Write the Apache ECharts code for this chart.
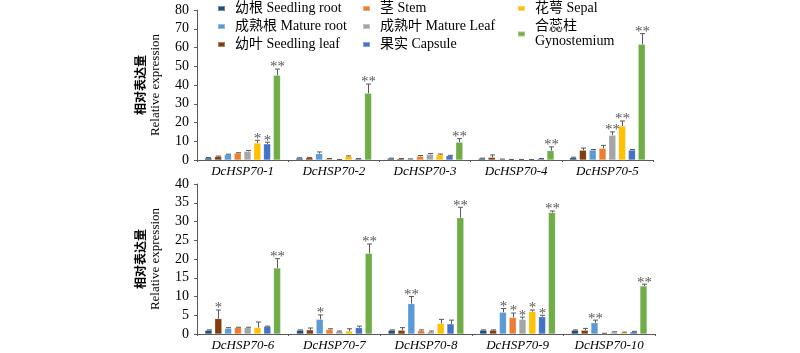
<!DOCTYPE html>
<html>
<head>
<meta charset="utf-8">
<script src="https://cdn.jsdelivr.net/npm/echarts@6/dist/echarts.min.js"></script>
<style>
  html, body { margin: 0; padding: 0; background: #fff; }
  #main { width: 800px; height: 353px; }
</style>
</head>
<body>
<div id="main"></div>
<script>
// genes, top panel 1-5, bottom panel 6-10
var genesTop = ['DcHSP70-1', 'DcHSP70-2', 'DcHSP70-3', 'DcHSP70-4', 'DcHSP70-5'];
var genesBottom = ['DcHSP70-6', 'DcHSP70-7', 'DcHSP70-8', 'DcHSP70-9', 'DcHSP70-10'];

// tissues in bar order
var tissues = ['幼根 Seedling root', '幼叶 Seedling leaf', '成熟根 Mature root', '茎 Stem',
  '成熟叶 Mature Leaf', '花萼 Sepal', '果实 Capsule', '合蕊柱\nGynostemium'];
var colors = ['#1F4E79', '#843C0C', '#5B9BD5', '#ED7D31', '#A5A5A5', '#FFC000', '#4472C4', '#70AD47'];

// relative expression, genes 1..10
var seedlingRoot = [1.1, 1.0, 0.9, 0.9, 1.2, 1.0, 1.0, 1.0, 1.0, 1.0];
var seedlingLeaf = [1.8, 1.2, 0.7, 1.4, 5.2, 4.1, 1.1, 1.0, 1.0, 1.0];
var matureRoot   = [2.9, 3.4, 0.5, 0.4, 5.3, 1.5, 3.9, 8.1, 5.8, 3.0];
var stem         = [3.7, 0.7, 2.0, 0.2, 6.2, 1.7, 1.2, 0.9, 4.4, 0.1];
var matureLeaf   = [4.6, 0.2, 3.0, 0.2, 13.2, 1.7, 0.7, 0.6, 3.9, 0.5];
var sepal        = [9.1, 1.9, 2.9, 0.2, 18.1, 1.7, 0.8, 2.8, 6.0, 0.4];
var capsule      = [8.6, 0.7, 2.3, 0.7, 5.3, 2.0, 1.7, 2.7, 4.6, 0.6];
var gynostemium  = [45.2, 35.6, 9.5, 5.0, 61.7, 17.6, 21.5, 31.0, 32.4, 12.8];

// error bars (SD, upper only)
var errSeedlingRoot = [0.2, 0.2, 0.1, 0.1, 0.3, 0.1, 0.1, 0.1, 0.1, 0.1];
var errSeedlingLeaf = [0.3, 0.2, 0.1, 1.3, 1.2, 2.3, 0.5, 0.7, 0.1, 0.5];
var errMatureRoot   = [0.2, 0.9, 0.1, 0.1, 0.3, 0.2, 1.2, 1.9, 1.0, 0.7];
var errStem         = [0.2, 0.1, 0.4, 0.1, 1.6, 0.1, 0.2, 0.2, 1.2, 0.1];
var errMatureLeaf   = [0.5, 0.1, 0.5, 0.1, 1.8, 0.1, 0.1, 0.2, 0.6, 0.1];
var errSepal        = [1.4, 0.3, 0.3, 0.1, 2.7, 1.5, 0.6, 1.1, 0.4, 0.1];
var errCapsule      = [0.9, 0.1, 0.2, 0.1, 0.3, 0.1, 0.4, 1.0, 0.4, 0.1];
var errGynostemium  = [3.3, 4.9, 1.9, 2.0, 5.7, 2.5, 2.5, 2.8, 0.4, 0.5];

// significance stars (0 none, 1 *, 2 **)
var sigSeedlingRoot = [0, 0, 0, 0, 0, 0, 0, 0, 0, 0];
var sigSeedlingLeaf = [0, 0, 0, 0, 0, 1, 0, 0, 0, 0];
var sigMatureRoot   = [0, 0, 0, 0, 0, 0, 1, 2, 1, 2];
var sigStem         = [0, 0, 0, 0, 0, 0, 0, 0, 1, 0];
var sigMatureLeaf   = [0, 0, 0, 0, 2, 0, 0, 0, 1, 0];
var sigSepal        = [1, 0, 0, 0, 2, 0, 0, 0, 1, 0];
var sigCapsule      = [1, 0, 0, 0, 0, 0, 0, 0, 1, 0];
var sigGynostemium  = [2, 2, 2, 2, 2, 2, 2, 2, 2, 2];

var yTicksTop = [0, 80, 10];
var yTicksBottom = [0, 40, 5];

var values = [seedlingRoot, seedlingLeaf, matureRoot, stem, matureLeaf, sepal, capsule, gynostemium];
var errs = [errSeedlingRoot, errSeedlingLeaf, errMatureRoot, errStem, errMatureLeaf, errSepal, errCapsule, errGynostemium];
var sigs = [sigSeedlingRoot, sigSeedlingLeaf, sigMatureRoot, sigStem, sigMatureLeaf, sigSepal, sigCapsule, sigGynostemium];

var serif = '"Liberation Serif", "Times New Roman", "Noto Sans CJK SC", serif';
var axisColor = '#595959';
var BAR_W = 7, GAP = 0.4;

var myChart = echarts.init(document.getElementById('main'));

function renderErr(params, api) {
  var cat = api.value(0), t = api.value(1), v = api.value(2), e = api.value(3), s = api.value(4);
  var n = tissues.length;
  var gap = BAR_W * GAP;
  var total = n * BAR_W + (n - 1) * gap;
  var off = -total / 2 + t * (BAR_W + gap) + BAR_W / 2;
  var p0 = api.coord([cat, v]);
  var p1 = api.coord([cat, v + e]);
  var x = Math.round(p0[0] + off) + 0.5;
  var st = { stroke: axisColor, lineWidth: 1 };
  var children = [
    { type: 'line', shape: { x1: x, y1: p0[1], x2: x, y2: p1[1] }, style: st },
    { type: 'line', shape: { x1: x - 2.5, y1: p1[1], x2: x + 2.5, y2: p1[1] }, style: st }
  ];
  if (s > 0) {
    children.push({
      type: 'text',
      style: {
        text: s === 2 ? '**' : '*', x: x, y: p1[1] + 6,
        textAlign: 'center', textVerticalAlign: 'bottom',
        font: '15px ' + serif, fill: axisColor
      }
    });
  }
  return { type: 'group', children: children };
}

function errData(from, to) {
  var d = [];
  for (var t = 0; t < tissues.length; t++) {
    for (var g = from; g < to; g++) {
      d.push([g - from, t, values[t][g], errs[t][g], sigs[t][g]]);
    }
  }
  return d;
}

var series = [];
[[0, 5], [5, 10]].forEach(function (r, gi) {
  tissues.forEach(function (name, t) {
    series.push({
      name: name,
      type: 'bar',
      xAxisIndex: gi,
      yAxisIndex: gi,
      barWidth: BAR_W,
      barGap: (GAP * 100) + '%',
      itemStyle: { color: colors[t], borderColor: 'rgba(255,255,255,0.35)', borderWidth: 0.5 },
      data: values[t].slice(r[0], r[1])
    });
  });
  series.push({
    type: 'custom',
    xAxisIndex: gi,
    yAxisIndex: gi,
    renderItem: renderErr,
    encode: { x: 0, y: 2 },
    data: errData(r[0], r[1]),
    z: 3
  });
});

function legendCol(left, items) {
  return {
    orient: 'vertical',
    left: left,
    top: 1,
    padding: 0,
    itemWidth: 7,
    itemHeight: 5,
    itemGap: 3,
    icon: 'rect',
    data: items,
    textStyle: { fontFamily: serif, fontSize: 14, color: '#000', padding: [0, 0, 0, 5], lineHeight: 15 }
  };
}

function yAxis(gi, ticks) {
  return {
    type: 'value',
    gridIndex: gi,
    min: ticks[0],
    max: ticks[1],
    interval: ticks[2],
    splitLine: { show: false },
    axisLine: { show: true, lineStyle: { color: axisColor } },
    axisTick: { show: true, length: 3, lineStyle: { color: axisColor } },
    axisLabel: { fontFamily: serif, fontSize: 14, color: '#000', margin: 8 },
    name: '{a|相对表达量}\n{b|Relative expression}',
    nameLocation: 'middle',
    nameRotate: 90,
    nameGap: 34,
    nameTextStyle: {
      rich: {
        a: { fontFamily: '"Noto Sans CJK SC", sans-serif', fontSize: 12, fontWeight: 'bold', color: '#000', lineHeight: 16 },
        b: { fontFamily: serif, fontSize: 13, color: '#000', lineHeight: 15 }
      }
    }
  };
}

function xAxis(gi, cats) {
  return {
    type: 'category',
    gridIndex: gi,
    data: cats,
    axisLine: { lineStyle: { color: axisColor } },
    axisTick: { show: true, length: 2, lineStyle: { color: axisColor } },
    axisLabel: { interval: 0, fontFamily: serif, fontSize: 13, fontStyle: 'italic', color: '#000', margin: 5 }
  };
}

var option = {
  animation: false,
  backgroundColor: '#fff',
  color: colors,
  legend: [
    legendCol(217, [tissues[0], tissues[2], tissues[1]]),
    legendCol(362, [tissues[3], tissues[4], tissues[6]]),
    legendCol(517, [tissues[5], tissues[7]])
  ],
  grid: [
    { left: 197, right: 147, top: 10, height: 150 },
    { left: 197, right: 145, top: 184, height: 150 }
  ],
  xAxis: [xAxis(0, genesTop), xAxis(1, genesBottom)],
  yAxis: [yAxis(0, yTicksTop), yAxis(1, yTicksBottom)],
  series: series
};

myChart.setOption(option);
window.addEventListener('resize', function () {
  myChart.resize();
});
</script>
</body>
</html>
